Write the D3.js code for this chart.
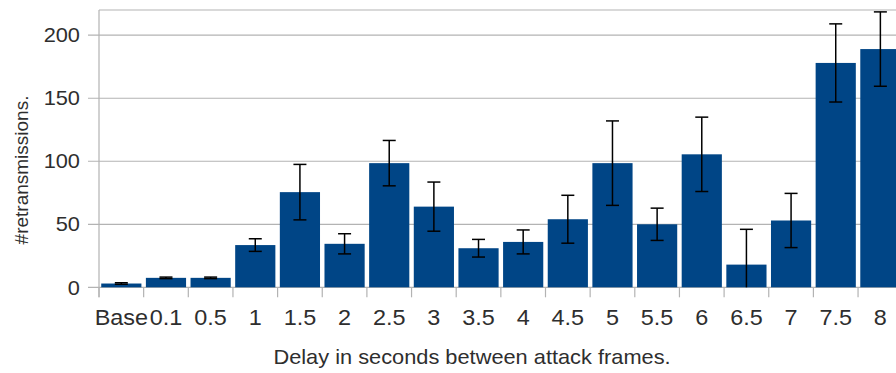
<!DOCTYPE html>
<html>
<head>
<meta charset="utf-8">
<script src="https://cdn.jsdelivr.net/npm/d3@7"></script>
<style>
  html, body { margin: 0; padding: 0; background: #fff; overflow: hidden; }
  svg { display: block; font-family: "Liberation Sans", Arial, sans-serif; }
</style>
</head>
<body>
<svg id="chart" width="896" height="373"></svg>
<script>
// categories and values
const categories = ["Base", "0.1", "0.5", "1", "1.5", "2", "2.5", "3", "3.5", "4",
                    "4.5", "5", "5.5", "6", "6.5", "7", "7.5", "8"];
const means  = [3, 7.5, 7.5, 33.5, 75.5, 34.5, 98.5, 64, 31, 36,
                54, 98.5, 50, 105.5, 18, 53, 178, 189];
const errors = [0.6, 0.6, 0.6, 5, 22, 8, 18, 19.5, 7, 9.5,
                19, 33.5, 12.8, 29.5, 28, 21.5, 31, 29.5];
const yTicks = [0, 50, 100, 150, 200];

const data = categories.map((c, i) => ({ cat: c, v: means[i], e: errors[i] }));

const svg = d3.select("#chart");
const plotLeft = 99, plotTop = 10, plotBottom = 287.3;
const step = 44.65;
const plotRight = plotLeft + step * categories.length;   // runs past the window edge, as in the original

// the original picture is a little stretched sideways
const sx = 1.09;

const x = d3.scaleBand()
    .domain(categories)
    .range([plotLeft, plotRight])
    .paddingInner(0.1)
    .paddingOuter(0.05);

const y = d3.scaleLinear()
    .domain([0, 220])
    .range([plotBottom, plotTop]);

const grey = "#b3b3b3";
const textCol = "#2e2e2e";

// horizontal grid lines + top border
svg.append("g")
    .selectAll("line")
    .data(yTicks.concat([220]))
    .enter()
    .append("line")
    .attr("x1", d => d === 220 ? plotLeft : plotLeft - 11)
    .attr("x2", plotRight)
    .attr("y1", d => y(d))
    .attr("y2", d => y(d))
    .attr("stroke", grey)
    .attr("stroke-width", 1.2);

// y axis line
svg.append("line")
    .attr("x1", plotLeft).attr("x2", plotLeft)
    .attr("y1", plotTop).attr("y2", plotBottom + 10)
    .attr("stroke", grey)
    .attr("stroke-width", 1.2);

// x ticks at the band boundaries
const bounds = categories.map(c => x(c) - x.step() * x.paddingInner() / 2).concat([plotRight]);
svg.append("g")
    .selectAll("line")
    .data(bounds)
    .enter()
    .append("line")
    .attr("x1", d => d).attr("x2", d => d)
    .attr("y1", plotBottom).attr("y2", plotBottom + 10)
    .attr("stroke", grey)
    .attr("stroke-width", 1.2);

// y tick labels
svg.append("g")
    .selectAll("text")
    .data(yTicks)
    .enter()
    .append("text")
    .attr("transform", d => `translate(80,${y(d)}) scale(${sx},1)`)
    .attr("dy", "0.36em")
    .attr("text-anchor", "end")
    .attr("font-size", 20)
    .attr("fill", textCol)
    .text(d => d);

// bars
svg.append("g")
    .selectAll("rect")
    .data(data)
    .enter()
    .append("rect")
    .attr("x", d => x(d.cat))
    .attr("y", d => y(d.v))
    .attr("width", x.bandwidth())
    .attr("height", d => y(0) - y(d.v))
    .style("fill", "#004586");

// error bars
const cap = 6.5;
const eb = svg.append("g")
    .attr("stroke", "#000")
    .attr("stroke-width", 1.5)
    .selectAll("g")
    .data(data)
    .enter()
    .append("g");

eb.append("line")
    .attr("x1", d => x(d.cat) + x.bandwidth() / 2)
    .attr("x2", d => x(d.cat) + x.bandwidth() / 2)
    .attr("y1", d => y(d.v + d.e))
    .attr("y2", d => y(Math.max(0, d.v - d.e)));

eb.append("line")
    .attr("x1", d => x(d.cat) + x.bandwidth() / 2 - cap)
    .attr("x2", d => x(d.cat) + x.bandwidth() / 2 + cap)
    .attr("y1", d => y(d.v + d.e))
    .attr("y2", d => y(d.v + d.e));

eb.filter(d => d.v - d.e > 0)
    .append("line")
    .attr("x1", d => x(d.cat) + x.bandwidth() / 2 - cap)
    .attr("x2", d => x(d.cat) + x.bandwidth() / 2 + cap)
    .attr("y1", d => y(d.v - d.e))
    .attr("y2", d => y(d.v - d.e));

// x tick labels
svg.append("g")
    .selectAll("text")
    .data(categories)
    .enter()
    .append("text")
    .attr("transform", d => `translate(${x(d) + x.bandwidth() / 2},325) scale(${sx},1)`)
    .attr("text-anchor", "middle")
    .attr("font-size", 21.5)
    .attr("fill", textCol)
    .text(d => d);

// axis titles
svg.append("text")
    .attr("transform", `translate(472,364) scale(${sx},1)`)
    .attr("text-anchor", "middle")
    .attr("font-size", 20)
    .attr("fill", textCol)
    .text("Delay in seconds between attack frames.");

svg.append("text")
    .attr("transform", "translate(28,170) rotate(-90)")
    .attr("text-anchor", "middle")
    .attr("font-size", 19)
    .attr("fill", textCol)
    .text("#retransmissions.");
</script>
</body>
</html>
